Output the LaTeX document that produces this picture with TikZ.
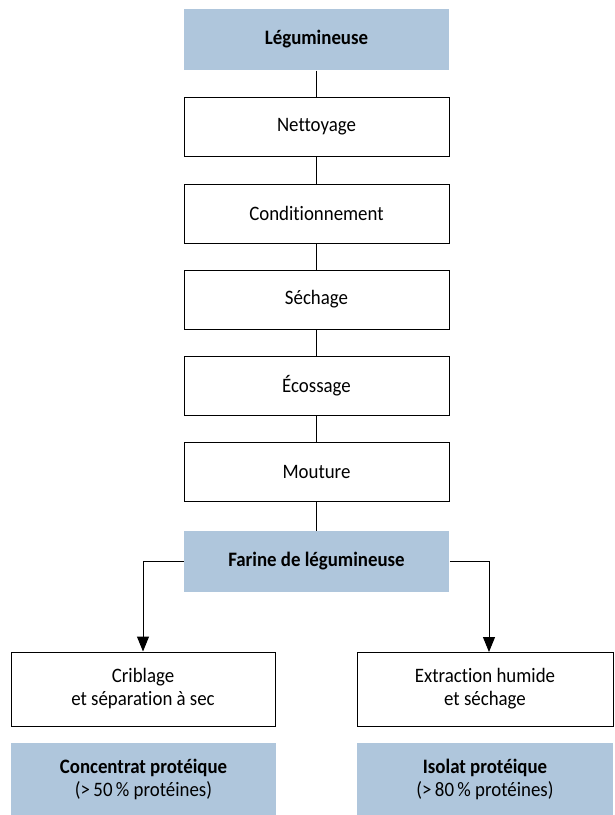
\documentclass[tikz,border=0pt]{standalone}
\usepackage{fontspec}
\setmainfont{Carlito}[Ligatures=NoCommon,FakeStretch=0.92]
\usepackage{tikz}
\usetikzlibrary{arrows.meta,positioning}

\definecolor{boxblue}{RGB}{175,198,220}

\begin{document}
\begin{tikzpicture}[x=1pt,y=-1pt,thick,line width=1pt,
  font=\fontsize{20.5}{23}\selectfont,
  step box/.style={rectangle,draw,fill=white,minimum width=265pt,
    minimum height=59pt,align=center,inner sep=0pt},
  prod box/.style={rectangle,fill=boxblue,minimum width=265pt,
    minimum height=61pt,align=center,inner sep=0pt,font=\fontsize{20.5}{23}\selectfont\bfseries},
  >={Triangle[width=12pt,length=15pt]}]

  \useasboundingbox (0,0) rectangle (614,815);

  \node[prod box] (L) at (316.5,39.5) {Légumineuse};
  \node[step box] (N) at (316.5,126.5) {Nettoyage};
  \node[step box] (C) at (316.5,213.5) {Conditionnement};
  \node[step box] (S) at (316.5,299.5) {Séchage};
  \node[step box] (E) at (316.5,385.5) {Écossage};
  \node[step box] (M) at (316.5,472) {Mouture};
  \node[prod box] (F) at (316.5,561.5) {Farine de légumineuse};

  \node[step box,minimum width=264pt,minimum height=74pt] (CS) at (143,689)
    {Criblage\\et séparation à sec};
  \node[step box,minimum width=256pt,minimum height=74pt] (EH) at (485,689)
    {Extraction humide\\et séchage};

  \node[prod box,minimum height=72pt] (CP) at (143.5,779)
    {Concentrat protéique\\{\mdseries(>\,50\,\% protéines)}};
  \node[prod box,minimum width=256pt,minimum height=72pt] (IP) at (485,779)
    {Isolat protéique\\{\mdseries(>\,80\,\% protéines)}};

  \path (L) edge (N)
        (N) edge (C)
        (C) edge (S)
        (S) edge (E)
        (E) edge (M)
        (M) edge (F);

  \draw[->] (F.west) -| (CS.north);
  \draw[->] (F.east) -| (489,652);

\end{tikzpicture}
\end{document}
